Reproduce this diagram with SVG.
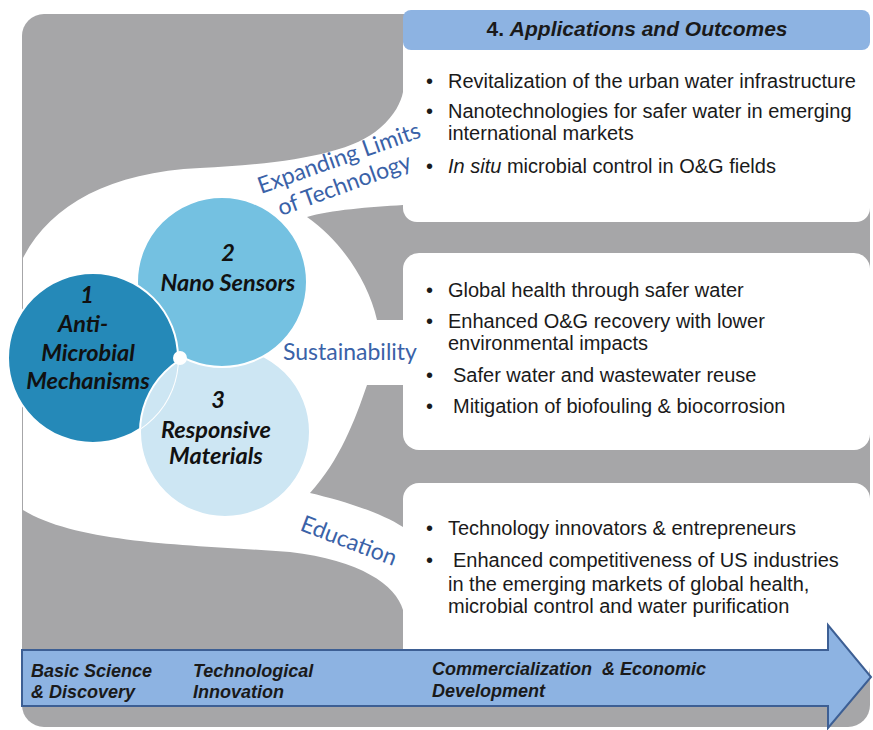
<svg xmlns="http://www.w3.org/2000/svg" width="873" height="730" viewBox="0 0 873 730">
<defs>
<style>
.bt{font-family:"Liberation Sans",Arial,sans-serif;font-size:20px;fill:#1a1a1a}
.hd{font-family:"Liberation Sans",Arial,sans-serif;font-size:21px;font-weight:bold;fill:#1a1a1a}
.ct{font-family:Lato,"Liberation Sans",sans-serif;font-size:23.5px;font-weight:bold;font-style:italic;fill:#111;text-anchor:middle}
.bl{font-family:Lato,"Open Sans",sans-serif;font-size:23px;fill:#3a62a8}
.ar{font-family:"Liberation Sans",Arial,sans-serif;font-size:18px;font-weight:bold;font-style:italic;fill:#1a1a1a}
.circ{stroke:#fff;stroke-width:2}
</style>
<clipPath id="c1clip"><circle cx="93" cy="358" r="85"/></clipPath>
</defs>
<rect x="22" y="14" width="848" height="713" rx="22" fill="#a6a6a8"/>
<g id="connectors">
<path d="M23,258 C50,205 110,172 200,168 C280,164 350,155 380,128 C395,115 401,102 403,92 L403,205 C370,207 330,210 307,217 C340,240 368,280 377,320 L403,320 L403,385 L367,385 C355,420 340,460 310,493 C340,500 380,512 403,527 L403,648 L403,610 C396,585 360,560 290,552 C200,545 80,545 23,510 Z" fill="#fff"/>
</g>
<g id="box1">
<rect x="403" y="30" width="467" height="192" rx="14" fill="#fff"/>
<rect x="403" y="10" width="467" height="40" rx="8" fill="#8db3e2"/>
<text class="hd" x="637" y="36" text-anchor="middle">4. <tspan font-style="italic">Applications and Outcomes</tspan></text>
<g class="bt">
<text x="426" y="88">•</text><text x="448" y="88">Revitalization of the urban water infrastructure</text>
<text x="426" y="118">•</text><text x="448" y="118">Nanotechnologies for safer water in emerging</text>
<text x="448" y="140">international markets</text>
<text x="426" y="173">•</text><text x="448" y="173"><tspan font-style="italic">In situ</tspan> microbial control in O&amp;G fields</text>
</g>
</g>
<g id="box2">
<rect x="403" y="253" width="467" height="197" rx="16" fill="#fff"/>
<g class="bt">
<text x="426" y="297">•</text><text x="448" y="297">Global health through safer water</text>
<text x="426" y="328">•</text><text x="448" y="328">Enhanced O&amp;G recovery with lower</text>
<text x="448" y="350">environmental impacts</text>
<text x="426" y="382">•</text><text x="453" y="382">Safer water and wastewater reuse</text>
<text x="426" y="413">•</text><text x="453" y="413">Mitigation of biofouling &amp; biocorrosion</text>
</g>
</g>
<g id="box3">
<rect x="403" y="483" width="467" height="200" rx="16" fill="#fff"/>
<g class="bt">
<text x="426" y="535">•</text><text x="448" y="535">Technology innovators &amp; entrepreneurs</text>
<text x="426" y="567">•</text><text x="453" y="567">Enhanced competitiveness of US industries</text>
<text x="448" y="591">in the emerging markets of global health,</text>
<text x="448" y="613">microbial control and water purification</text>
</g>
</g>
<g id="labels">
<text class="bl" transform="translate(261,194) rotate(-19.5)">Expanding Limits</text>
<text class="bl" transform="translate(281,216) rotate(-20)">of Technology</text>
<text class="bl" x="283" y="360">Sustainability</text>
<text class="bl" transform="translate(299,530) rotate(21)">Education</text>
</g>
<g id="circle3">
<circle class="circ" cx="225" cy="432" r="85" fill="#cde6f3"/>
</g>
<g id="circle2">
<circle class="circ" cx="222" cy="282" r="85" fill="#74c1e1"/>
<text class="ct" x="228" y="261">2</text>
<text class="ct" x="228" y="291">Nano Sensors</text>
</g>
<g id="circle1">
<circle class="circ" cx="93" cy="358" r="85" fill="#2589b8"/>
<circle class="circ" cx="225" cy="432" r="85" fill="#cde6f3" clip-path="url(#c1clip)"/>
<text class="ct" x="87" y="303">1</text>
<text class="ct" x="83" y="332">Anti-</text>
<text class="ct" x="88" y="361">Microbial</text>
<text class="ct" x="88" y="389">Mechanisms</text>
<circle cx="180" cy="358" r="7" fill="#fff"/>
</g>
<g id="circle3text">
<text class="ct" x="218" y="408">3</text>
<text class="ct" x="216" y="438">Responsive</text>
<text class="ct" x="216" y="464">Materials</text>
</g>
<g id="arrow">
<path d="M22,650 L828,650 L828,625 L871,677 L828,728 L828,706 L22,706 Z" fill="#8db3e2" stroke="#3d5f94" stroke-width="2"/>
<text class="ar" x="31" y="677">Basic Science</text>
<text class="ar" x="31" y="698">&amp; Discovery</text>
<text class="ar" x="193" y="677">Technological</text>
<text class="ar" x="193" y="698">Innovation</text>
<text class="ar" x="432" y="675" xml:space="preserve">Commercialization  &amp; Economic</text>
<text class="ar" x="432" y="697">Development</text>
</g>
</svg>
